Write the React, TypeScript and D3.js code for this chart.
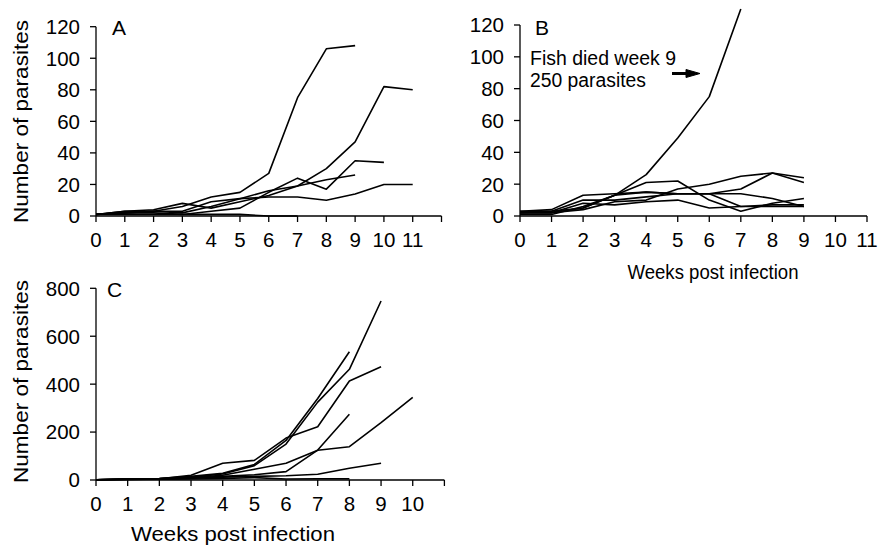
import React from "react";
import * as d3 from "d3";

// ---- Data ----
// Panel A: number of parasites per fish by week (index = week)
const seriesA: number[][] = [
  [1, 3, 3, 6, 12, 15, 27, 75, 106, 108],
  [1, 2, 3, 2, 6, 11, 16, 19, 30, 47, 82, 80],
  [1, 2, 2, 1, 3, 5, 15, 24, 17, 35, 34],
  [1, 3, 4, 8, 5, 9, 13, 19, 23, 26],
  [1, 2, 3, 3, 9, 11, 12, 12, 10, 14, 20, 20],
  [1, 1, 1, 1, 1, 1, 0, 0],
];
// Panel B
const seriesB: number[][] = [
  [3, 3, 5, 13, 26, 49, 75, 130],
  [2, 2, 4, 9, 10, 17, 20, 25, 27, 24],
  [2, 2, 5, 13, 15, 14, 14, 17, 27, 21],
  [1, 1, 6, 13, 21, 22, 10, 3, 8, 11],
  [3, 4, 13, 14, 15, 14, 14, 14, 11, 6],
  [2, 2, 8, 7, 9, 10, 5, 6, 6, 6],
  [2, 3, 10, 10, 12, 14, 14, 6, 7, 7],
];
// Panel C
const seriesC: number[][] = [
  [1, 5, 6, 12, 25, 60, 150, 325, 462, 747],
  [1, 4, 6, 15, 28, 65, 165, 340, 535],
  [1, 3, 5, 20, 70, 82, 175, 222, 413, 473],
  [1, 2, 4, 8, 15, 22, 35, 125, 274],
  [1, 3, 5, 10, 20, 45, 70, 124, 139, 239, 345],
  [1, 3, 4, 7, 12, 15, 18, 24, 49, 70],
  [1, 2, 3, 4, 6, 10, 4, 5, 5],
];

const yTicksAB = [0, 20, 40, 60, 80, 100, 120];
const yTicksC = [0, 200, 400, 600, 800];
const xTicksA = [0, 1, 2, 3, 4, 5, 6, 7, 8, 9, 10, 11, 12];
const xLabelsA = ["0", "1", "2", "3", "4", "5", "6", "7", "8", "9", "10", "11", ""];
const xTicksB = [0, 1, 2, 3, 4, 5, 6, 7, 8, 9, 10, 11];
const xLabelsB = ["0", "1", "2", "3", "4", "5", "6", "7", "8", "9", "10", "11"];
const xTicksC = [0, 1, 2, 3, 4, 5, 6, 7, 8, 9, 10, 11];
const xLabelsC = ["0", "1", "2", "3", "4", "5", "6", "7", "8", "9", "10", ""];

const yTitle = "Number of parasites";
const xTitle = "Weeks post infection";
const noteLines = ["Fish died week 9", "250 parasites"];

const FONT = "'Liberation Sans', Arial, Helvetica, sans-serif";

type PanelProps = {
  left: number;
  right: number;
  bottom: number;
  top: number;
  xMax: number;
  yMax: number;
  xTicks: number[];
  xLabels: string[];
  yTicks: number[];
  series: number[][];
  letter: string;
  letterX: number;
  letterY: number;
  yTitleCenter?: number;
  xTitleX?: number;
  xTitleY?: number;
  xTitleSize?: number;
  xTitleLen?: number;
  children?: React.ReactNode;
};

function Panel(p: PanelProps) {
  const x = d3.scaleLinear().domain([0, p.xMax]).range([p.left, p.right]);
  const y = d3.scaleLinear().domain([0, p.yMax]).range([p.bottom, p.top]);
  const line = d3
    .line<number>()
    .x((_, i) => x(i))
    .y((d) => y(d));
  return (
    <g>
      {p.series.map((s, i) => (
        <path key={i} d={line(s) || ""} fill="none" stroke="#000" strokeWidth={1.6} strokeLinejoin="round" />
      ))}
      {/* axes */}
      <line x1={p.left} x2={p.left} y1={y(p.yMax)} y2={p.bottom} stroke="#000" strokeWidth={1.3} />
      <line x1={p.left} x2={x(p.xMax)} y1={p.bottom} y2={p.bottom} stroke="#000" strokeWidth={1.3} />
      {p.yTicks.map((t) => (
        <g key={"y" + t}>
          <line x1={p.left - 6} x2={p.left} y1={y(t)} y2={y(t)} stroke="#000" strokeWidth={1.3} />
          <text x={p.left - 16} y={y(t)} dy="0.36em" textAnchor="end" fontSize={20.5} fontFamily={FONT}>
            {t}
          </text>
        </g>
      ))}
      {p.xTicks.map((t, i) => (
        <g key={"x" + t}>
          <line x1={x(t)} x2={x(t)} y1={p.bottom} y2={p.bottom + 6} stroke="#000" strokeWidth={1.3} />
          <text x={x(t)} y={p.bottom + 30.5} textAnchor="middle" fontSize={20.5} fontFamily={FONT}>
            {p.xLabels[i]}
          </text>
        </g>
      ))}
      <text x={p.letterX} y={p.letterY} fontSize={21} fontFamily={FONT}>
        {p.letter}
      </text>
      {p.yTitleCenter !== undefined && (
        <text
          transform={`translate(28,${p.yTitleCenter}) rotate(-90)`}
          textAnchor="middle"
          fontSize={20.5}
          fontFamily={FONT}
          textLength={203}
          lengthAdjust="spacingAndGlyphs"
        >
          {yTitle}
        </text>
      )}
      {p.xTitleX !== undefined && (
        <text
          x={p.xTitleX}
          y={p.xTitleY}
          textAnchor="middle"
          fontSize={p.xTitleSize}
          fontFamily={FONT}
          textLength={p.xTitleLen}
          lengthAdjust="spacingAndGlyphs"
        >
          {xTitle}
        </text>
      )}
      {p.children}
    </g>
  );
}

export default function App() {
  return (
    <svg
      width={879}
      height={546}
      viewBox="0 0 879 546"
      style={{ position: "absolute", left: 0, top: 0, background: "#fff" }}
    >
      <rect width={879} height={546} fill="#fff" />
      <Panel
        left={96}
        right={441.5}
        bottom={216}
        top={26.7}
        xMax={12}
        yMax={120}
        xTicks={xTicksA}
        xLabels={xLabelsA}
        yTicks={yTicksAB}
        series={seriesA}
        letter="A"
        letterX={112}
        letterY={35}
        yTitleCenter={121.5}
      />
      <Panel
        left={520}
        right={867}
        bottom={216}
        top={25}
        xMax={11}
        yMax={120}
        xTicks={xTicksB}
        xLabels={xLabelsB}
        yTicks={yTicksAB}
        series={seriesB}
        letter="B"
        letterX={535}
        letterY={35}
        xTitleX={713}
        xTitleY={279}
        xTitleSize={20}
        xTitleLen={171}
      >
        <text x={530} y={65} fontSize={20} fontFamily={FONT} textLength={146} lengthAdjust="spacingAndGlyphs">
          {noteLines[0]}
        </text>
        <text x={530} y={87} fontSize={20} fontFamily={FONT} textLength={116} lengthAdjust="spacingAndGlyphs">
          {noteLines[1]}
        </text>
        <line x1={672} x2={688} y1={73.5} y2={73.5} stroke="#000" strokeWidth={3} />
        <polygon points="686,69.5 700,73.5 686,77.5" fill="#000" stroke="#000" strokeWidth={1} />
      </Panel>
      <Panel
        left={96}
        right={444.4}
        bottom={480}
        top={288.3}
        xMax={11}
        yMax={800}
        xTicks={xTicksC}
        xLabels={xLabelsC}
        yTicks={yTicksC}
        series={seriesC}
        letter="C"
        letterX={107}
        letterY={297}
        yTitleCenter={381.5}
        xTitleX={233}
        xTitleY={541}
        xTitleSize={21}
        xTitleLen={204}
      />
    </svg>
  );
}
